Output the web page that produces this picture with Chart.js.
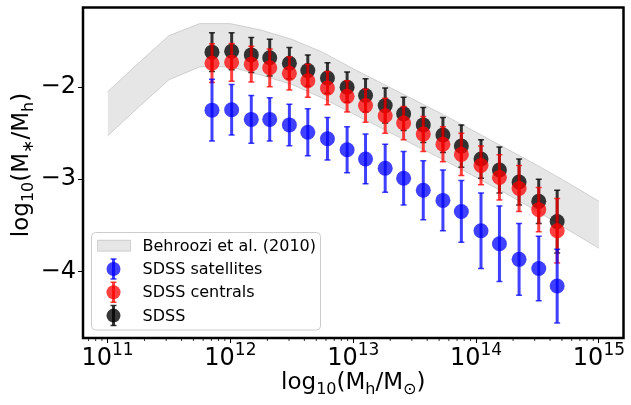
<!DOCTYPE html>
<html>
<head>
<meta charset="utf-8">
<script src="https://cdn.jsdelivr.net/npm/chart.js@4.4.0/dist/chart.umd.min.js"></script>
<style>
  html, body { margin: 0; padding: 0; background: #fff; }
  #wrap { width: 631px; height: 405px; }
</style>
</head>
<body>
<div id="wrap"><canvas id="chart" width="631" height="405"></canvas></div>
<script>
// halo mass bins, log10(Mh/Msun)
const logMh = [11.85, 12.01, 12.17, 12.32, 12.48, 12.63, 12.79, 12.95, 13.10, 13.26,
               13.41, 13.57, 13.73, 13.88, 14.04, 14.19, 14.35, 14.51, 14.66];

const sdss       = [-1.62, -1.61, -1.65, -1.68, -1.74, -1.82, -1.90, -2.00, -2.09, -2.20,
                    -2.29, -2.41, -2.52, -2.64, -2.78, -2.90, -3.03, -3.24, -3.46];
const sdssErr    = [0.21, 0.20, 0.19, 0.20, 0.17, 0.17, 0.165, 0.165, 0.18, 0.19,
                    0.18, 0.19, 0.19, 0.23, 0.21, 0.25, 0.25, 0.24, 0.34];

const centrals    = [-1.74, -1.73, -1.75, -1.79, -1.85, -1.93, -2.01, -2.10, -2.20, -2.31,
                     -2.39, -2.51, -2.62, -2.73, -2.85, -2.98, -3.10, -3.33, -3.56];
const centralsErr = [0.21, 0.205, 0.195, 0.205, 0.18, 0.18, 0.18, 0.17, 0.18, 0.19,
                     0.18, 0.19, 0.19, 0.23, 0.21, 0.245, 0.25, 0.24, 0.35];

const satellites    = [-2.25, -2.245, -2.35, -2.35, -2.41, -2.49, -2.56, -2.68, -2.78, -2.88,
                       -2.99, -3.12, -3.23, -3.35, -3.56, -3.70, -3.87, -3.97, -4.16];
const satellitesErr = [0.335, 0.275, 0.26, 0.235, 0.225, 0.255, 0.23, 0.25, 0.27, 0.26,
                       0.29, 0.32, 0.33, 0.335, 0.41, 0.41, 0.39, 0.35, 0.40];

// Behroozi et al. (2010) band
const bandLogMh = [11.0, 11.25, 11.5, 11.75, 12.0, 12.25, 12.5, 12.75, 13.0, 13.25,
                   13.5, 13.75, 14.0, 14.25, 14.5, 14.75, 15.0];
const bandUpper = [-2.05, -1.74, -1.44, -1.31, -1.31, -1.38, -1.48, -1.62, -1.80, -1.97,
                   -2.14, -2.31, -2.49, -2.67, -2.85, -3.04, -3.24];
const bandLower = [-2.53, -2.22, -1.92, -1.78, -1.78, -1.87, -1.97, -2.12, -2.29, -2.46,
                   -2.63, -2.80, -2.98, -3.16, -3.35, -3.55, -3.75];

const xTickExp = [11, 12, 13, 14, 15];
const yTicks = [-2, -3, -4];

const FONT = "'DejaVu Sans', sans-serif";
const bandFill = 'rgba(128,128,128,0.2)';
const bandEdge = 'rgba(128,128,128,0.3)';
const colSat = 'rgba(0,0,255,0.75)';
const colCen = 'rgba(255,0,0,0.75)';
const colAll = 'rgba(0,0,0,0.78)';

const pts = (xs, ys) => xs.map((lx, i) => ({ x: Math.pow(10, lx), y: ys[i] }));

function pointSet(label, ys, errs, color, order) {
  return {
    label, data: pts(logMh, ys), errors: errs, order,
    pointRadius: 7.5, pointBorderWidth: 0,
    pointBackgroundColor: color, backgroundColor: color, borderColor: color
  };
}

function drawBar(ctx, x, yTop, yBot, color) {
  ctx.strokeStyle = color;
  ctx.lineWidth = 3;
  ctx.beginPath();
  ctx.moveTo(x, yTop); ctx.lineTo(x, yBot);
  ctx.stroke();
  ctx.lineWidth = 1.5;
  ctx.beginPath();
  ctx.moveTo(x - 3, yTop); ctx.lineTo(x + 3, yTop);
  ctx.moveTo(x - 3, yBot); ctx.lineTo(x + 3, yBot);
  ctx.stroke();
}

// error bars, drawn just before each dataset's markers
const errorBars = {
  id: 'errorBars',
  beforeDatasetDraw(chart, args) {
    const ds = chart.data.datasets[args.index];
    if (!ds.errors) return;
    const ctx = chart.ctx, ys = chart.scales.y;
    ctx.save();
    args.meta.data.forEach((p, i) => {
      const v = ds.data[i].y, e = ds.errors[i];
      drawBar(ctx, p.x, ys.getPixelForValue(v + e), ys.getPixelForValue(v - e), ds.pointBackgroundColor);
    });
    ctx.restore();
  }
};

function drawRich(ctx, parts, x, y) {
  // parts: [text, size, dy]
  let cx = x;
  parts.forEach(([t, size, dy]) => {
    ctx.font = size + 'px ' + FONT;
    ctx.fillText(t, cx, y + dy);
    cx += ctx.measureText(t).width;
  });
}
function richWidth(ctx, parts) {
  let w = 0;
  parts.forEach(([t, size]) => { ctx.font = size + 'px ' + FONT; w += ctx.measureText(t).width; });
  return w;
}

const decorations = {
  id: 'decorations',
  afterDraw(chart) {
    const ctx = chart.ctx, a = chart.chartArea, xs = chart.scales.x;
    ctx.save();
    ctx.fillStyle = '#000';
    ctx.strokeStyle = '#000';

    // minor ticks on log axis
    ctx.lineWidth = 0.8;
    ctx.beginPath();
    for (let n = 10; n <= 15; n++) {
      for (let k = 2; k <= 9; k++) {
        const v = k * Math.pow(10, n);
        if (v < xs.min || v > xs.max) continue;
        const px = xs.getPixelForValue(v);
        ctx.moveTo(px, a.bottom); ctx.lineTo(px, a.bottom + 3);
      }
    }
    ctx.stroke();

    // x tick labels 10^n
    ctx.textBaseline = 'alphabetic';
    ctx.textAlign = 'left';
    xTickExp.forEach(e => {
      const px = xs.getPixelForValue(Math.pow(10, e));
      const parts = [['10', 24, 0], [String(e), 17, -10]];
      drawRich(ctx, parts, px - richWidth(ctx, parts) / 2, a.bottom + 27);
    });

    // axis titles
    const xt = [['log', 23, 0], ['10', 16, 5], ['(M', 23, 0], ['h', 16, 5], ['/M', 23, 0], ['\u2299', 16, 5], [')', 23, 0]];
    drawRich(ctx, xt, (a.left + a.right) / 2 - richWidth(ctx, xt) / 2, 389);

    const yt = [['log', 23, 0], ['10', 16, 5], ['(M', 23, 0], ['\u2217', 16, 5], ['/M', 23, 0], ['h', 16, 5], [')', 23, 0]];
    ctx.save();
    ctx.translate(27.5, 165);
    ctx.rotate(-Math.PI / 2);
    drawRich(ctx, yt, -richWidth(ctx, yt) / 2, 0);
    ctx.restore();

    // frame
    ctx.lineWidth = 2.5;
    ctx.strokeRect(a.left, a.top, a.right - a.left, a.bottom - a.top);

    // legend
    const lx = a.left + 8.5, ly = a.bottom - 105.5, lw = 229, lh = 97.5;
    ctx.beginPath();
    ctx.roundRect(lx, ly, lw, lh, 4);
    ctx.fillStyle = 'rgba(255,255,255,0.8)';
    ctx.fill();
    ctx.strokeStyle = '#cccccc';
    ctx.lineWidth = 1;
    ctx.stroke();

    const rows = [
      { label: 'Behroozi et al. (2010)', band: true },
      { label: 'SDSS satellites', color: colSat },
      { label: 'SDSS centrals', color: colCen },
      { label: 'SDSS', color: colAll }
    ];
    rows.forEach((r, i) => {
      const cy = ly + 13.2 + i * 23.3;
      if (r.band) {
        ctx.fillStyle = bandFill;
        ctx.fillRect(lx + 6, cy - 5.5, 33, 11);
        ctx.strokeStyle = bandEdge;
        ctx.lineWidth = 1;
        ctx.strokeRect(lx + 6, cy - 5.5, 33, 11);
      } else {
        drawBar(ctx, lx + 22, cy - 10, cy + 10, r.color);
        ctx.fillStyle = r.color;
        ctx.beginPath();
        ctx.arc(lx + 22, cy, 7, 0, Math.PI * 2);
        ctx.fill();
      }
      ctx.fillStyle = '#000';
      ctx.font = '16px ' + FONT;
      ctx.textBaseline = 'middle';
      ctx.fillText(r.label, lx + 51, cy + 1);
    });
    ctx.restore();
  }
};

new Chart(document.getElementById('chart'), {
  type: 'scatter',
  data: {
    datasets: [
      { label: 'Behroozi et al. (2010)', data: pts(bandLogMh, bandUpper), showLine: true,
        pointRadius: 0, borderWidth: 1, borderColor: bandEdge, backgroundColor: bandFill,
        fill: '+1', order: 10 },
      { label: 'band lower', data: pts(bandLogMh, bandLower), showLine: true,
        pointRadius: 0, borderWidth: 1, borderColor: bandEdge, fill: false, order: 10 },
      pointSet('SDSS satellites', satellites, satellitesErr, colSat, 1),
      pointSet('SDSS centrals', centrals, centralsErr, colCen, 2),
      pointSet('SDSS', sdss, sdssErr, colAll, 3)
    ]
  },
  options: {
    responsive: false,
    animation: false,
    events: [],
    layout: { padding: { top: 5, right: 3, left: 0, bottom: 0 } },
    plugins: { legend: { display: false }, tooltip: { enabled: false } },
    scales: {
      x: {
        type: 'logarithmic',
        min: Math.pow(10, 10.8), max: Math.pow(10, 15.2),
        afterBuildTicks: s => { s.ticks = xTickExp.map(e => ({ value: Math.pow(10, e), major: true })); },
        ticks: { display: false, autoSkip: false },
        grid: { drawOnChartArea: false, drawTicks: true, tickLength: 5, color: '#000', lineWidth: 1 },
        border: { display: false },
        afterFit: s => { s.height = 67; s.paddingLeft = 0; s.paddingRight = 0; }
      },
      y: {
        min: -4.724, max: -1.135,
        afterBuildTicks: s => { s.ticks = yTicks.map(v => ({ value: v })); },
        ticks: {
          autoSkip: false, color: '#000', padding: 2,
          font: { family: FONT, size: 24 },
          callback: v => String(v).replace('-', '\u2212')
        },
        grid: { drawOnChartArea: false, drawTicks: true, tickLength: 5, color: '#000', lineWidth: 1 },
        border: { display: false },
        afterFit: s => { s.width = 83; s.paddingTop = 0; s.paddingBottom = 0; }
      }
    }
  },
  plugins: [errorBars, decorations]
});
</script>
</body>
</html>
